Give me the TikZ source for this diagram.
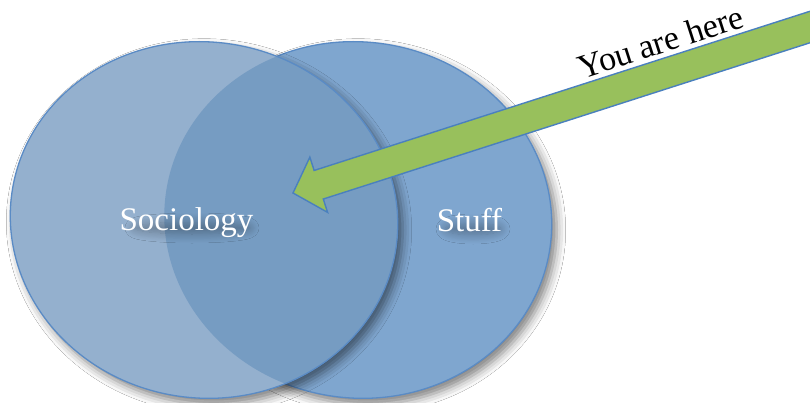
\documentclass[tikz,border=0pt]{standalone}
\usepackage{fontspec}
\setmainfont{Liberation Serif}
\usetikzlibrary{shadows.blur}

\definecolor{stufffill}{RGB}{127,166,207}
\definecolor{socfill}{RGB}{148,176,206}
\definecolor{bothfill}{RGB}{118,156,194}
\definecolor{setline}{RGB}{90,139,197}
\definecolor{pointergreen}{RGB}{152,192,92}
\definecolor{pointerline}{RGB}{74,128,190}

\begin{document}
\begin{tikzpicture}[x=1pt, y=-1pt,
  setshadow/.style={blur shadow={shadow xshift=5pt, shadow yshift=-6pt,
      shadow blur radius=9pt, shadow opacity=50}},
  setedge/.style={draw=setline, line width=1.3pt},
  setlabel/.style={text=white, anchor=base, inner sep=0pt,
      font=\fontsize{33}{33}\selectfont},
  labelsmudge/.style={blur shadow={shadow xshift=0pt, shadow yshift=0pt,
      shadow blur radius=9pt, shadow blur steps=12, shadow opacity=30}},
  pointer/.style={draw=pointerline, line width=1.4pt, fill=pointergreen,
      line join=miter},
  herelabel/.style={anchor=base, inner sep=0pt, text=black,
      font=\fontsize{34}{34}\selectfont}]

\useasboundingbox (0,0) rectangle (810,403);
\fill[white] (0,0) rectangle (810,403);

% centres of the two sets, the pointer tip and the label positions
\coordinate (socc) at (204,220);
\coordinate (stuffc) at (358,220);
\coordinate (tip) at (293,193);
\coordinate (socpos) at (186.5,230);
\coordinate (stuffpos) at (469.5,232);
\coordinate (herepos) at (664,53);

% right set: Stuff
\fill[stufffill, setshadow, rotate around={-8:(stuffc)}]
  (stuffc) ellipse [x radius=194, y radius=178];
\draw[setedge, rotate around={-8:(stuffc)}]
  (stuffc) ellipse [x radius=194, y radius=178];

% left set: Sociology
\fill[socfill, setshadow, rotate around={-8:(socc)}]
  (socc) ellipse [x radius=194, y radius=178];

% intersection of the two sets
\begin{scope}
  \clip[rotate around={-8:(socc)}] (socc) ellipse [x radius=194, y radius=178];
  \fill[bothfill, rotate around={-8:(stuffc)}]
    (stuffc) ellipse [x radius=194, y radius=178];
\end{scope}
\draw[setedge, rotate around={-8:(socc)}]
  (socc) ellipse [x radius=194, y radius=178];

% soft shadows beneath the set labels
\path[labelsmudge] (192,228) ellipse [x radius=58, y radius=6];
\path[labelsmudge] (473,229) ellipse [x radius=28, y radius=6];

% set labels
\node[setlabel] (soclabel) at (socpos) {Sociology};
\node[setlabel] (stufflabel) at (stuffpos) {Stuff};

% the pointer
\begin{scope}
  \clip (0,0) rectangle (810,403);
  \begin{scope}[shift={(tip)}, rotate=17.8]
    \draw[pointer] (0,0) -- (27,-29) -- (27,-15) -- (700,-15)
      -- (700,15) -- (27,15) -- (27,29) -- cycle;
  \end{scope}
\end{scope}

\node[herelabel, rotate=17.8] (here) at (herepos) {You are here};

\end{tikzpicture}
\end{document}
